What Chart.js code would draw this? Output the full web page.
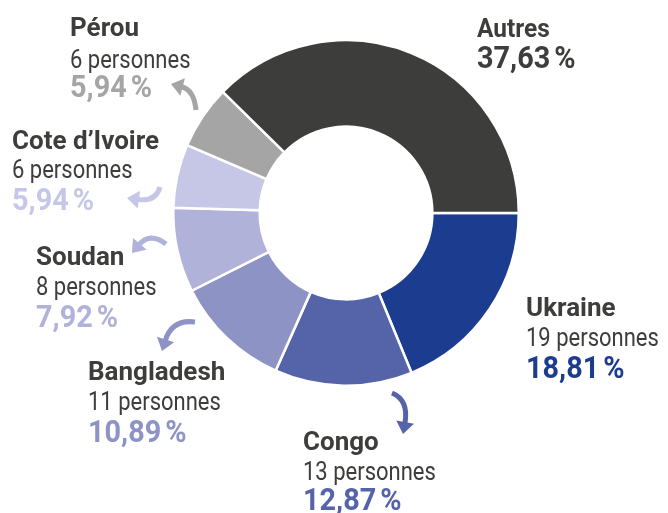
<!DOCTYPE html>
<html lang="fr">
<head>
<meta charset="utf-8">
<title>Répartition par pays</title>
<script src="https://cdn.jsdelivr.net/npm/chart.js@4.4.1/dist/chart.umd.min.js"></script>
<style>
  html, body { margin: 0; padding: 0; background: #ffffff; }
  #wrap { width: 668px; height: 513px; position: relative; }
</style>
</head>
<body>
<div id="wrap"><canvas id="graphique-pays" width="668" height="513"></canvas></div>
<script>
// donnees
const pays = ['Ukraine', 'Congo', 'Bangladesh', 'Soudan', 'Cote d\u2019Ivoire', 'Pérou', 'Autres'];
const pourcentages = [18.81, 12.87, 10.89, 7.92, 5.94, 5.94, 37.63];
const personnes = [19, 13, 11, 8, 6, 6, null];

const couleurs = ['#1c3d8f', '#5563a8', '#8e93c6', '#b0b2da', '#c6c7e6', '#a5a5a5', '#3d3d3b'];
const gris = '#3d3d3b';
const police = 'Roboto, "Liberation Sans", sans-serif';

// position des etiquettes (x, lignes de base)
const etiquettes = [
  { x: 526, y: [316, 346, 378] },
  { x: 303, y: [450, 480, 510] },
  { x: 88, y: [380, 410, 442] },
  { x: 36, y: [265, 295, 327] },
  { x: 12, y: [149, 178, 210] },
  { x: 70, y: [36, 68, 97] },
  { x: 477, y: [37, 68] }
];

// fleches courbes : depart, point de controle, pointe
const fleches = [
  null,
  { a: [392, 393], c: [409, 400], b: [403, 434] },
  { a: [195, 322], c: [172, 319], b: [162, 351] },
  { a: [166, 244], c: [150, 232], b: [132, 253] },
  { a: [160, 187], c: [156, 202], b: [127, 198] },
  { a: [196, 110], c: [194, 90], b: [171, 84] }
];

// texte condense horizontalement, renvoie la largeur dessinee
function texte(ctx, t, x, y, echelle) {
  ctx.save();
  ctx.translate(x, y);
  ctx.scale(echelle, 1);
  ctx.fillText(t, 0, 0);
  ctx.restore();
  return ctx.measureText(t).width * echelle;
}

// pourcentage avec une espace fine avant le signe %
function pourcent(ctx, v, x, y) {
  const echelle = 0.93;
  const w = texte(ctx, v.toFixed(2).replace('.', ','), x, y, echelle);
  texte(ctx, '%', x + w + 4, y, echelle);
}

function dessinerFleche(ctx, f, couleur) {
  const tete = 12;
  let dx = f.b[0] - f.c[0], dy = f.b[1] - f.c[1];
  const n = Math.hypot(dx, dy);
  dx /= n; dy /= n;
  const fin = [f.b[0] - dx * tete, f.b[1] - dy * tete];
  ctx.save();
  ctx.strokeStyle = couleur;
  ctx.fillStyle = couleur;
  ctx.lineWidth = 5;
  ctx.lineCap = 'butt';
  ctx.beginPath();
  ctx.moveTo(f.a[0], f.a[1]);
  ctx.quadraticCurveTo(f.c[0], f.c[1], fin[0] + dx, fin[1] + dy);
  ctx.stroke();
  ctx.beginPath();
  ctx.moveTo(f.b[0], f.b[1]);
  ctx.lineTo(fin[0] - dy * 9, fin[1] + dx * 9);
  ctx.lineTo(fin[0] + dy * 9, fin[1] - dx * 9);
  ctx.closePath();
  ctx.fill();
  ctx.restore();
}

const pluginEtiquettes = {
  id: 'etiquettes',
  afterDraw(chart) {
    const ctx = chart.ctx;
    ctx.save();
    ctx.textAlign = 'left';
    ctx.textBaseline = 'alphabetic';
    pays.forEach((nom, i) => {
      const e = etiquettes[i];
      if (fleches[i]) dessinerFleche(ctx, fleches[i], couleurs[i]);
      ctx.fillStyle = gris;
      ctx.font = 'bold 26px ' + police;
      if (personnes[i] === null) {
        texte(ctx, nom, e.x, e.y[0], 0.94);
        ctx.font = 'bold 31px ' + police;
        pourcent(ctx, pourcentages[i], e.x, e.y[1]);
        return;
      }
      texte(ctx, nom, e.x, e.y[0], 1);
      ctx.font = '25px ' + police;
      texte(ctx, personnes[i] + ' personnes', e.x, e.y[1], 0.88);
      ctx.fillStyle = couleurs[i];
      ctx.font = 'bold 31px ' + police;
      pourcent(ctx, pourcentages[i], e.x, e.y[2]);
    });
    ctx.restore();
  }
};

const ctxPays = document.getElementById('graphique-pays').getContext('2d');
const graphiquePays = new Chart(ctxPays, {
  type: 'doughnut',
  data: {
    labels: pays,
    datasets: [{
      data: pourcentages,
      backgroundColor: couleurs,
      borderColor: '#ffffff',
      borderWidth: 2.5
    }]
  },
  options: {
    responsive: false,
    animation: false,
    rotation: 90,
    cutout: '50%',
    layout: {
      padding: { left: 172, right: 148, top: 39, bottom: 126 }
    },
    plugins: {
      legend: { display: false },
      tooltip: { enabled: false }
    }
  },
  plugins: [pluginEtiquettes]
});
</script>
</body>
</html>
